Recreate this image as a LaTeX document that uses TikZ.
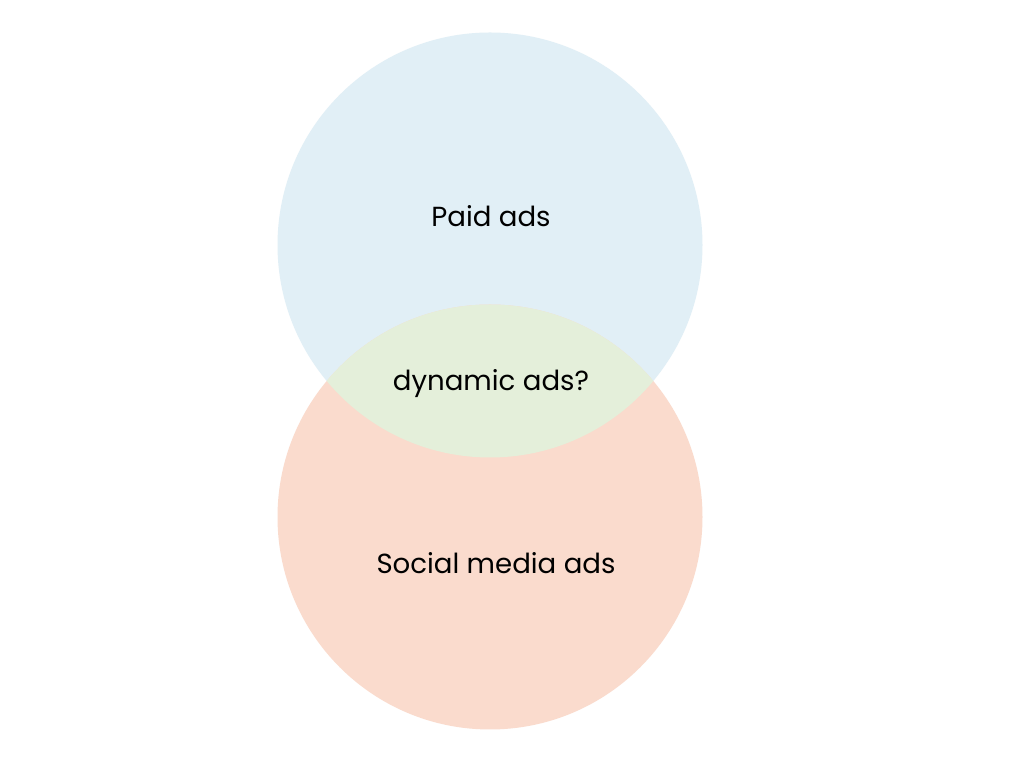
\documentclass[tikz,border=0pt]{standalone}
\usepackage{fontspec}
\setmainfont{Poppins}
\usepackage{tikz}
\usetikzlibrary{positioning}
\definecolor{PaidBlue}{HTML}{E1EFF6}
\definecolor{SocialPeach}{HTML}{FADBCD}
\definecolor{OverlapGreen}{HTML}{E4EFDA}

\begin{document}
\begin{tikzpicture}[
  x=0.01cm,y=-0.01cm,
  setlabel/.style={font=\fontsize{7.85}{9}\selectfont,text=black,inner sep=0pt}
]
\useasboundingbox[fill=white] (0,0) rectangle (1024,768);
\fill[PaidBlue] (490,245) circle[radius=212.5];
\fill[SocialPeach] (490,517) circle[radius=212.5];
\begin{scope}
  \clip (490,245) circle[radius=212.5];
  \fill[OverlapGreen] (490,517) circle[radius=212.5];
\end{scope}
\node[setlabel] (paid) at (491,216) {Paid ads};
\node[setlabel] (dynamic) at (491,384) {dynamic ads?};
\node[setlabel] (social) at (496,563) {Social media ads};
\end{tikzpicture}
\end{document}
